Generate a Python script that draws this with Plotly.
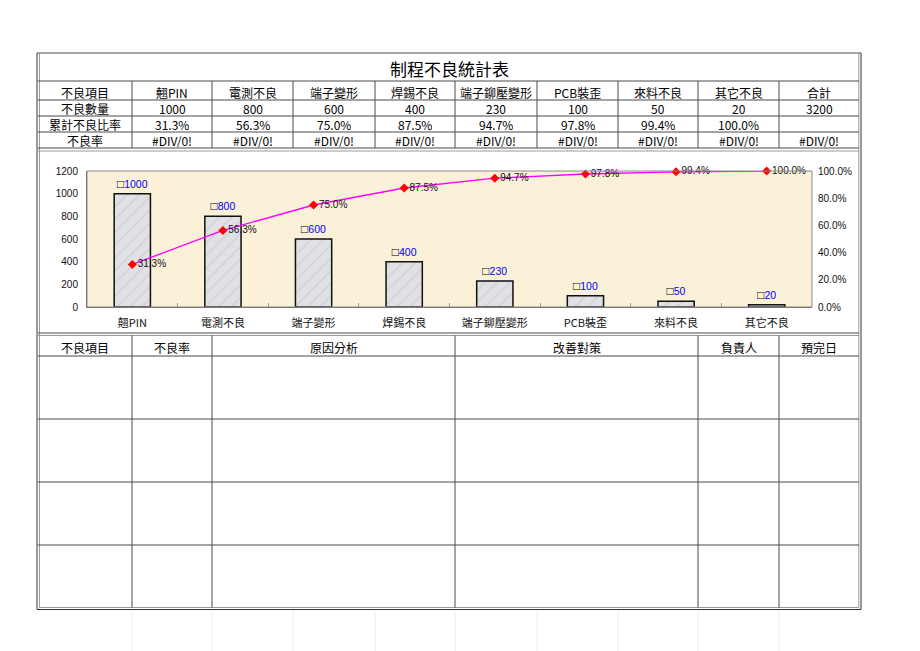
import plotly.graph_objects as go

# ---------------- data ----------------
title_text = "制程不良統計表"
categories = ["翹PIN", "電測不良", "端子變形", "焊錫不良", "端子鉚壓變形", "PCB裝歪", "來料不良", "其它不良"]
defect_counts = [1000, 800, 600, 400, 230, 100, 50, 20]
cum_pct = [31.3, 56.3, 75.0, 87.5, 94.7, 97.8, 99.4, 100.0]
defect_rate = ["#DIV/0!", "#DIV/0!", "#DIV/0!", "#DIV/0!", "#DIV/0!", "#DIV/0!", "#DIV/0!", "#DIV/0!", "#DIV/0!"]
row_labels = ["不良項目", "不良數量", "累計不良比率", "不良率"]
total_label = "合計"
lower_headers = ["不良項目", "不良率", "原因分析", "改善對策", "負責人", "預完日"]
left_ticks = [0, 200, 400, 600, 800, 1000, 1200]
right_ticks = [0.0, 0.2, 0.4, 0.6, 0.8, 1.0]

# ---------------- layout geometry (pixels) ----------------
FW, FH = 920, 651
L, R, T, B = 87, 812, 171, 307
W, H = R - L, B - T


def px(x):
    return (x - L) / W


def py(y):
    return (B - y) / H


CJK = "Noto Sans CJK TC"
ARIAL = "Liberation Sans"

fig = go.Figure()

fig.add_trace(go.Bar(
    x=categories, y=defect_counts, width=0.4,
    marker=dict(color="#dfe0e3", line=dict(color="#111111", width=1.5),
                pattern=dict(shape="/", fgcolor="#b4b5ba", bgcolor="#e0e1e4", size=9, solidity=0.12)),
    text=[f'<span style="color:#000;font-size:12px">□</span>{v}' for v in defect_counts],
    texttemplate="%{text}", textposition="outside",
    textfont=dict(family=ARIAL, size=10.5, color="#0000ff"),
    cliponaxis=False, showlegend=False, hoverinfo="skip",
))

fig.add_trace(go.Scatter(
    x=categories, y=[v / 100 for v in cum_pct], yaxis="y2",
    mode="lines+markers+text",
    line=dict(color="#ff00ff", width=1.3),
    marker=dict(symbol="diamond", color="#ff0000", size=7),
    text=[f"{v:.1f}%" for v in cum_pct], textposition="middle right",
    textfont=dict(family=ARIAL, size=10, color="#111111"),
    cliponaxis=False, showlegend=False, hoverinfo="skip",
))

shapes = []
LC = "#4a4a4a"


def hline(y, x0, x1, color=LC, w=1):
    shapes.append(dict(type="line", xref="paper", yref="paper", x0=px(x0), x1=px(x1),
                       y0=py(y), y1=py(y), line=dict(color=color, width=w)))


def vline(x, y0, y1, color=LC, w=1):
    shapes.append(dict(type="line", xref="paper", yref="paper", x0=px(x), x1=px(x),
                       y0=py(y0), y1=py(y1), line=dict(color=color, width=w)))


# plot-area border
shapes.append(dict(type="rect", xref="paper", yref="paper", x0=0, x1=1, y0=0, y1=1,
                   line=dict(color="#8a8a8a", width=1), layer="above"))

# faint spreadsheet gridlines below the form
upper_cols = [38, 132, 212, 293, 375, 455, 537, 618, 698, 779, 859]
for x in upper_cols[1:-1]:
    vline(x, 611, 651, color="#ececec")

# outer frame (double)
hline(53, 37, 861)
vline(37, 53, 609.5, color="#333333")
vline(39.5, 53, 607.5, color="#9a9a9a")
vline(861, 53, 609.5, color="#333333")
vline(858.8, 53, 607.5, color="#9a9a9a")
hline(609.5, 37, 861, color="#333333")
hline(607.5, 39.5, 858.8, color="#9a9a9a")

# upper table
row_edges = [81, 100, 116, 132, 148]
for y in row_edges:
    hline(y, 38, 859)
hline(151, 38, 859, color="#9a9a9a")
for x in upper_cols[1:-1]:
    vline(x, 81, 148)

# chart region bottom (double)
hline(333, 38, 859)
hline(335.5, 38, 859, color="#9a9a9a")

# lower table
lower_cols = [38, 132, 212, 455, 698, 779, 859]
for y in [356, 419, 482, 545]:
    hline(y, 38, 859)
for x in lower_cols[1:-1]:
    vline(x, 335.5, 607.5)

annotations = []


def text(x, y, s, size=12, family=CJK, color="#000000", h=14):
    annotations.append(dict(xref="paper", yref="paper", x=px(x), y=py(y), text=s, showarrow=False,
                            xanchor="center", yanchor="middle", height=h, valign="middle",
                            font=dict(family=family, size=size, color=color)))


text(449, 68, title_text, size=17, h=22)

centers = [(upper_cols[i] + upper_cols[i + 1]) / 2 for i in range(len(upper_cols) - 1)]
row_y = [91.5, 108, 124, 140]
row1 = categories + [total_label]
row2 = [str(v) for v in defect_counts] + [str(sum(defect_counts))]
row3 = [f"{v:.1f}%" for v in cum_pct] + [""]
row4 = defect_rate
for r, (lab, vals) in enumerate(zip(row_labels, [row1, row2, row3, row4])):
    text(centers[0], row_y[r], lab)
    for i, v in enumerate(vals):
        if v:
            text(centers[i + 1], row_y[r], v)

lcenters = [(lower_cols[i] + lower_cols[i + 1]) / 2 for i in range(len(lower_cols) - 1)]
for c, h in zip(lcenters, lower_headers):
    text(c, 346.5, h)

fig.update_layout(
    width=FW, height=FH,
    margin=dict(l=L, r=FW - R, t=T, b=FH - B, pad=0),
    paper_bgcolor="#ffffff", plot_bgcolor="#fbf0d8",
    bargap=0.6,
    shapes=shapes, annotations=annotations,
    xaxis=dict(type="category", showgrid=False, showline=True, linecolor="#666666", linewidth=1,
               ticks="inside", tickson="boundaries", ticklen=4, tickcolor="#999999",
               ticklabelstandoff=6,
               tickfont=dict(family=CJK, size=11, color="#111111"), fixedrange=True),
    yaxis=dict(range=[0, 1200], tickvals=left_ticks, showgrid=False, zeroline=False,
               showline=True, linecolor="#666666", ticks="", ticklabelstandoff=6,
               tickfont=dict(family=ARIAL, size=10, color="#111111")),
    yaxis2=dict(range=[0, 1], tickvals=right_ticks, tickformat=".1%", overlaying="y", side="right",
                showgrid=False, zeroline=False, showline=False, ticks="", ticklabelstandoff=5,
                tickfont=dict(family=ARIAL, size=10, color="#111111")),
)

fig.write_html("out.html")
